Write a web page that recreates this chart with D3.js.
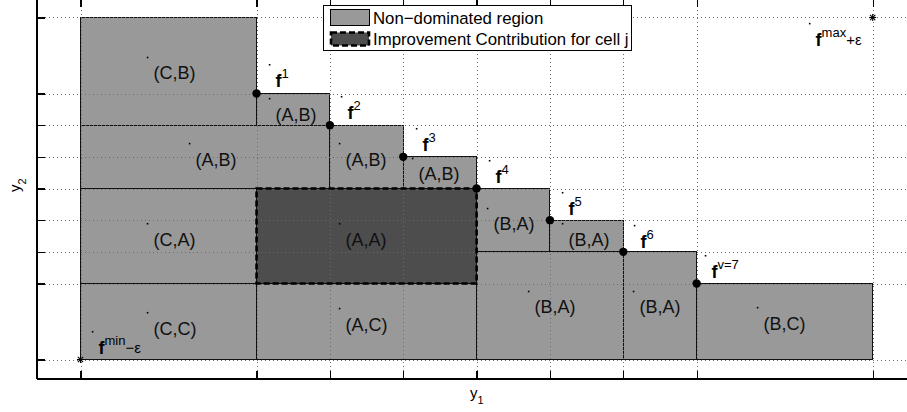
<!DOCTYPE html>
<html>
<head>
<meta charset="utf-8">
<script src="https://cdn.jsdelivr.net/npm/d3@7/dist/d3.min.js"></script>
<style>
  html, body { margin: 0; padding: 0; background: #fff; }
  svg { display: block; font-family: "Liberation Sans", Arial, Helvetica, sans-serif; }
</style>
</head>
<body>
<svg id="chart" width="907" height="412"></svg>
<script>
// ---------- data ----------
const xTicks = [0, 2.4, 3.4, 4.4, 5.4, 6.4, 7.4, 8.4, 10.8];
const yTicks = [0, 2.4, 3.4, 4.4, 5.4, 6.4, 7.4, 8.4, 10.8];

// Pareto points f^1 ... f^7
const paretoX = [2.4, 3.4, 4.4, 5.4, 6.4, 7.4, 8.4];
const paretoY = [8.4, 7.4, 6.4, 5.4, 4.4, 3.4, 2.4];
const paretoNames = ["1", "2", "3", "4", "5", "6", "v=7"];
const paretoLabelX = [2.577, 3.558, 4.581, 5.576, 6.571, 7.553, 8.52];
const paretoLabelY = [9.31, 8.30, 7.29, 6.28, 5.27, 4.23, 3.28];

// reference points
const fMin = [0, 0];
const fMax = [10.8, 10.8];
const fMinLabel = [0.164, 0.88];
const fMaxLabel = [9.94, 10.61];

// cells of the non-dominated region
const cellNames = ["(C,B)", "(A,B)", "(A,B)", "(A,B)", "(A,B)", "(C,A)", "(A,A)",
                   "(B,A)", "(B,A)", "(C,C)", "(A,C)", "(B,A)", "(B,A)", "(B,C)"];
const cellX0 = [0,   2.4, 0,   3.4, 4.4, 0,   2.4, 5.4, 6.4, 0,   2.4, 5.4, 7.4, 8.4];
const cellX1 = [2.4, 3.4, 3.4, 4.4, 5.4, 2.4, 5.4, 6.4, 7.4, 2.4, 5.4, 7.4, 8.4, 10.8];
const cellY0 = [7.4, 7.4, 5.4, 5.4, 5.4, 2.4, 2.4, 3.4, 3.4, 0,   0,   0,   0,   0];
const cellY1 = [10.8, 8.4, 7.4, 7.4, 6.4, 5.4, 5.4, 5.4, 4.4, 2.4, 2.4, 3.4, 3.4, 2.4];
const cellLabelX = [0.913, 2.577, 1.486, 3.531, 4.526, 0.913, 3.531, 5.549, 6.571, 0.913, 3.531, 6.108, 7.539, 9.23];
const cellLabelY = [9.54, 8.24, 6.82, 6.82, 6.35, 4.29, 4.29, 4.77, 4.29, 1.48, 1.61, 2.15, 2.15, 1.64];
const highlightCell = 6; // (A,A)

const legendItems = ["Non\u2212dominated region", "Improvement Contribution for cell j"];

// ---------- drawing ----------
const svg = d3.select("#chart");
const x = d3.scaleLinear().domain([-0.6, 11.4]).range([36.5, 916.7]);
const y = d3.scaleLinear().domain([-0.6, 11.4]).range([378.5, -1.5]);

const light = "#999999", dark = "#4d4d4d";
const cells = cellNames.map((n, i) => ({
  name: n, x0: cellX0[i], x1: cellX1[i], y0: cellY0[i], y1: cellY1[i],
  lx: cellLabelX[i], ly: cellLabelY[i], hi: i === highlightCell
}));

const plot = svg.append("g");

// cell fills
plot.selectAll("rect.cell").data(cells).enter().append("rect")
  .attr("class", "cell")
  .attr("x", d => x(d.x0)).attr("y", d => y(d.y1))
  .attr("width", d => x(d.x1) - x(d.x0)).attr("height", d => y(d.y0) - y(d.y1))
  .attr("fill", d => d.hi ? dark : light)
  .attr("stroke", d => d.hi ? "none" : "#111")
  .attr("stroke-width", 1)
  .attr("shape-rendering", "crispEdges");

// dotted grid
const grid = svg.append("g").attr("stroke", "#6a6a6a").attr("stroke-width", 1)
  .attr("stroke-dasharray", "1,3").attr("shape-rendering", "crispEdges");
grid.selectAll("line.gx").data(xTicks).enter().append("line")
  .attr("x1", d => Math.round(x(d)) + 0.5).attr("x2", d => Math.round(x(d)) + 0.5)
  .attr("y1", y(-0.6)).attr("y2", y(11.4));
grid.selectAll("line.gy").data(yTicks).enter().append("line")
  .attr("y1", d => Math.round(y(d)) + 0.5).attr("y2", d => Math.round(y(d)) + 0.5)
  .attr("x1", x(-0.6)).attr("x2", x(11.4));

// redraw cell edges over grid
plot.append("g").selectAll("rect").data(cells.filter(d => !d.hi)).enter().append("rect")
  .attr("x", d => x(d.x0)).attr("y", d => y(d.y1))
  .attr("width", d => x(d.x1) - x(d.x0)).attr("height", d => y(d.y0) - y(d.y1))
  .attr("fill", "none").attr("stroke", "#111").attr("stroke-width", 1)
  .attr("shape-rendering", "crispEdges");

// highlighted dashed border
cells.filter(d => d.hi).forEach(d => {
  svg.append("rect")
    .attr("x", x(d.x0)).attr("y", y(d.y1))
    .attr("width", x(d.x1) - x(d.x0)).attr("height", y(d.y0) - y(d.y1))
    .attr("fill", "none").attr("stroke", "#000").attr("stroke-width", 2.6)
    .attr("stroke-dasharray", "6,3");
});

// axes (ticks inside, no labels)
const axB = d3.axisBottom(x).tickValues(xTicks).tickSize(-8).tickSizeOuter(0).tickFormat("");
const axT = d3.axisTop(x).tickValues(xTicks).tickSize(-8).tickSizeOuter(0).tickFormat("");
const axL = d3.axisLeft(y).tickValues(yTicks).tickSize(-8).tickSizeOuter(0).tickFormat("");
const axR = d3.axisRight(y).tickValues(yTicks).tickSize(-8).tickSizeOuter(0).tickFormat("");
[[axB, `translate(0,${y(-0.6)})`], [axT, `translate(0,${y(11.4)})`],
 [axL, `translate(${x(-0.6)},0)`], [axR, `translate(${x(11.4)},0)`]].forEach(([ax, t]) => {
  const g = svg.append("g").attr("transform", t).call(ax);
  g.selectAll("path,line").attr("stroke", "#000").attr("stroke-width", 1.3)
    .attr("shape-rendering", "crispEdges");
});

// tiny anchor dots + labels
const anchors = svg.append("g");
function anchorDot(dx, dy) {
  anchors.append("rect").attr("x", x(dx) - 0.7).attr("y", y(dy) - 0.7)
    .attr("width", 1.6).attr("height", 1.6).attr("fill", "#000");
}
cells.forEach(d => {
  anchorDot(d.lx, d.ly);
  svg.append("text").attr("x", x(d.lx) + 6).attr("y", y(d.ly) + 22)
    .attr("font-size", 18).attr("fill", "#111").text(d.name);
});

// Pareto points
svg.selectAll("circle.pf").data(paretoX).enter().append("circle")
  .attr("cx", (d, i) => x(d)).attr("cy", (d, i) => y(paretoY[i]))
  .attr("r", 4.2).attr("fill", "#000");

function fLabel(lx, ly, sup, tail) {
  anchorDot(lx, ly);
  const t = svg.append("text").attr("x", x(lx) + 6).attr("y", y(ly) + 22).attr("fill", "#000");
  t.append("tspan").attr("font-weight", "bold").attr("font-size", 18).text("f");
  t.append("tspan").attr("font-size", 13).attr("dy", -9).text(sup);
  if (tail) t.append("tspan").attr("font-size", 15).attr("dy", 8).text(tail);
}
paretoNames.forEach((n, i) => fLabel(paretoLabelX[i], paretoLabelY[i], n, null));
fLabel(fMinLabel[0], fMinLabel[1], "min", "\u2212\u03b5");
fLabel(fMaxLabel[0], fMaxLabel[1], "max", "+\u03b5");

// star markers
function star(px, py) {
  const g = svg.append("g").attr("stroke", "#000").attr("stroke-width", 1.1);
  const r = 3.5, rd = 2.6;
  g.append("line").attr("x1", px - r).attr("x2", px + r).attr("y1", py).attr("y2", py);
  g.append("line").attr("x1", px).attr("x2", px).attr("y1", py - r).attr("y2", py + r);
  g.append("line").attr("x1", px - rd).attr("x2", px + rd).attr("y1", py - rd).attr("y2", py + rd);
  g.append("line").attr("x1", px - rd).attr("x2", px + rd).attr("y1", py + rd).attr("y2", py - rd);
}
star(x(fMin[0]), y(fMin[1]));
star(x(fMax[0]), y(fMax[1]));

// axis labels
const xl = svg.append("text").attr("x", 470).attr("y", 398).attr("font-size", 15).attr("fill", "#000");
xl.append("tspan").text("y");
xl.append("tspan").attr("font-size", 11).attr("dy", 6).text("1");
const yl = svg.append("text").attr("transform", "translate(20,192) rotate(-90)")
  .attr("font-size", 15).attr("fill", "#000");
yl.append("tspan").text("y");
yl.append("tspan").attr("font-size", 11).attr("dy", 6).text("2");

// legend
const lg = svg.append("g");
lg.append("rect").attr("x", 323.5).attr("y", 5.5).attr("width", 308).attr("height", 45)
  .attr("fill", "#fff").attr("stroke", "#000").attr("stroke-width", 1)
  .attr("shape-rendering", "crispEdges");
lg.append("rect").attr("x", 330.5).attr("y", 9.5).attr("width", 39).attr("height", 16)
  .attr("fill", light).attr("stroke", "#000").attr("stroke-width", 1)
  .attr("shape-rendering", "crispEdges");
lg.append("rect").attr("x", 331).attr("y", 32.5).attr("width", 38).attr("height", 13)
  .attr("fill", dark).attr("stroke", "#000").attr("stroke-width", 2.6)
  .attr("stroke-dasharray", "6,3");
lg.selectAll("text.leg").data(legendItems).enter().append("text")
  .attr("x", 373).attr("y", (d, i) => 24 + i * 21)
  .attr("font-size", 16.8).attr("fill", "#000").text(d => d);
</script>
</body>
</html>
